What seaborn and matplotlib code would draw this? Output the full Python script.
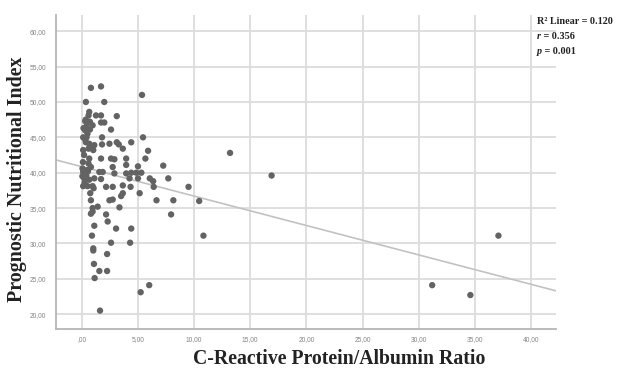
import numpy as np
import pandas as pd
import matplotlib
matplotlib.use("Agg")
import matplotlib.pyplot as plt
import seaborn as sns

# C-Reactive Protein/Albumin Ratio (x) and Prognostic Nutritional Index (y)
crp_alb = [
    0.81, 1.71, 5.36, 0.36, 2.00, 0.66, 0.60, 1.26, 1.71, 3.11,
    0.30, 0.72, 1.71, 2.00, 0.42, 0.96, 2.60, 0.30, 0.72,
    0.12, 0.42, 5.45, 1.80,
    0.36, 0.66, 1.11, 1.80, 2.46, 3.11, 3.29, 3.65, 4.40,
    0.12, 0.60, 1.02, 5.90, 5.66,
    0.66, 1.71, 2.60, 2.90, 3.95,
    7.25, 5.00, 0.81, 3.95, 2.75,
    0.06, 0.12, 0.51, 1.86, 1.56, 2.90, 3.95, 4.40, 4.85, 5.30,
    0.21, 0.66, 1.11, 1.71, 4.25, 6.05, 6.35, 7.70, 5.00,
    0.12, 0.51, 0.96, 2.16, 2.75, 3.65, 4.34, 6.40, 9.50,
    5.15, 3.65, 0.75, 1.05,
    3.50, 0.81, 2.46, 2.75, 6.65, 8.15, 10.45,
    1.41, 0.96, 3.35,
    0.81, 0.96, 2.16, 7.95,
    2.30, 1.11, 3.05, 4.40, 0.90, 10.83,
    2.60, 4.30, 1.02, 1.02, 2.25, 1.08, 1.56, 2.25, 1.14,
    6.00, 5.24, 1.62,
    0.05, 0.10, 0.20, 0.30, 0.15, 0.50, 0.25, 0.40, 0.60, 0.55, 0.85, 0.35,
    13.20, 16.90, 37.10, 31.20, 34.60,
]
pni = [
    52.0, 52.2, 51.0, 50.0, 50.0, 48.6, 48.1, 48.1, 48.1, 48.0,
    47.3, 47.2, 47.1, 47.1, 46.6, 46.7, 46.1, 46.0, 46.1,
    45.0, 45.0, 45.0, 45.0,
    44.3, 44.1, 43.9, 44.0, 44.1, 44.3, 44.0, 43.4, 44.3,
    43.2, 43.4, 43.2, 43.1, 42.0,
    42.0, 42.0, 42.0, 41.9, 42.0,
    41.0, 40.9, 40.8, 41.1, 40.8,
    40.6, 40.1, 40.4, 40.1, 40.1, 39.9, 39.9, 40.0, 40.0, 40.0,
    39.2, 39.0, 39.2, 39.1, 39.2, 39.2, 38.8, 39.2, 39.2,
    38.1, 38.1, 38.1, 38.0, 38.0, 38.2, 38.0, 38.0, 38.0,
    37.1, 37.1, 37.1, 37.8,
    36.7, 36.1, 36.1, 36.2, 36.1, 36.1, 36.0,
    35.2, 35.0, 35.1,
    34.2, 34.5, 34.1, 34.1,
    33.1, 32.5, 32.1, 32.1, 31.1, 31.1,
    30.1, 30.1, 29.3, 29.0, 28.5, 27.1, 26.1, 26.1, 25.1,
    24.1, 23.1, 20.5,
    39.5, 41.5, 42.5, 44.7, 46.3, 45.5, 38.6, 39.6, 41.3, 40.2, 43.5, 47.5,
    42.8, 39.6, 31.1, 24.1, 22.7,
]

x_ticks = [0, 5, 10, 15, 20, 25, 30, 35, 40]
x_tick_labels = [",00", "5,00", "10,00", "15,00", "20,00", "25,00", "30,00", "35,00", "40,00"]
y_ticks = [20, 25, 30, 35, 40, 45, 50, 55, 60]
y_tick_labels = ["20,00", "25,00", "30,00", "35,00", "40,00", "45,00", "50,00", "55,00", "60,00"]

df = pd.DataFrame({"CAR": crp_alb, "PNI": pni})

sns.set_style("white")
plt.rcParams["font.family"] = ["Liberation Serif", "DejaVu Serif"]

fig = plt.figure(figsize=(6.19, 3.68), dpi=100)
ax = fig.add_axes([56 / 619, 1 - 329 / 368, (555.7 - 56) / 619, (329 - 15) / 368])
ax.set_xlim(-2.3, 42.2)
ax.set_ylim(17.9, 62.3)

sns.regplot(data=df, x="CAR", y="PNI", ax=ax, ci=None, truncate=False,
            scatter_kws=dict(s=21, color="#636363", edgecolor="none", alpha=1, zorder=3),
            line_kws=dict(color="#c2c2c2", lw=1.2, zorder=2))

ax.set_xlim(-2.3, 42.2)
ax.set_ylim(17.9, 62.3)
ax.set_xticks(x_ticks)
ax.set_xticklabels(x_tick_labels)
ax.set_yticks(y_ticks)
ax.set_yticklabels(y_tick_labels)
for lab in ax.get_xticklabels() + ax.get_yticklabels():
    lab.set_fontfamily("Liberation Sans")
    lab.set_fontsize(4.8)
    lab.set_color("#858585")
ax.tick_params(axis="both", length=0)
ax.tick_params(axis="x", pad=5)
ax.tick_params(axis="y", pad=7)

ax.grid(True, color="#dcdcdc", lw=1.3)
ax.set_axisbelow(True)
for side in ["top", "right"]:
    ax.spines[side].set_visible(False)
for side in ["left", "bottom"]:
    ax.spines[side].set_color("#b5b5b5")
    ax.spines[side].set_linewidth(1.3)

ax.set_xlabel("C-Reactive Protein/Albumin Ratio", fontsize=14.2, fontweight="bold", color="#222222")
ax.set_ylabel("Prognostic Nutritional Index", fontsize=14.4, fontweight="bold", color="#222222")
ax.xaxis.set_label_coords((339 - 56) / 499.7, (329 - 359) / 314)
ax.xaxis.label.set_va("center")
ax.yaxis.set_label_coords((17 - 56) / 499.7, (329 - 179) / 314)
ax.yaxis.label.set_va("center")

# Annotation box at top right
x0 = 536.7 / 619
fig.text(x0, 1 - 21.7 / 368, "R² Linear = 0.120", fontsize=7.3, fontweight="bold",
         color="#222222", va="center", ha="left")
t1 = fig.text(x0, 1 - 36.7 / 368, "r", fontsize=7.3, fontweight="bold", style="italic",
              color="#222222", va="center", ha="left")
ax.annotate(" = 0.356", xy=(1, 0.5), xycoords=t1, fontsize=7.3, fontweight="bold",
            color="#222222", va="center", ha="left", annotation_clip=False)
t2 = fig.text(x0, 1 - 51.7 / 368, "p", fontsize=7.3, fontweight="bold", style="italic",
              color="#222222", va="center", ha="left")
ax.annotate(" = 0.001", xy=(1, 0.5), xycoords=t2, fontsize=7.3, fontweight="bold",
            color="#222222", va="center", ha="left", annotation_clip=False)

fig.savefig("out.png", dpi=100)
